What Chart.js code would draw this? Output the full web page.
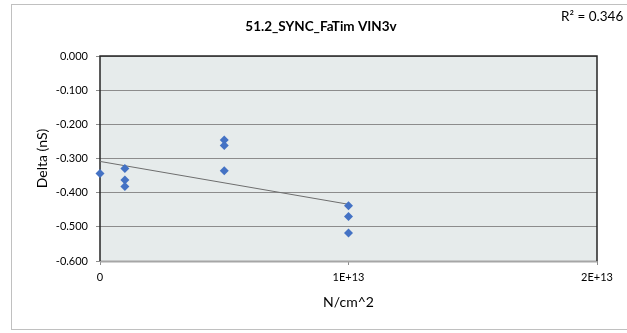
<!DOCTYPE html>
<html>
<head>
<meta charset="utf-8">
<script src="https://cdn.jsdelivr.net/npm/chart.js@4/dist/chart.umd.min.js"></script>
<style>
  html, body { margin: 0; padding: 0; background: #fff; }
  #box { width: 627px; height: 333px; }
</style>
</head>
<body>
<div id="box"><canvas id="scatter_canvas" width="627" height="333"></canvas></div>
<script>
// values (x in N/cm^2, y in nS)
const fluence = [0, 1e12, 1e12, 1e12, 5e12, 5e12, 5e12, 1e13, 1e13, 1e13];
const delta = [-0.344, -0.329, -0.363, -0.382, -0.246, -0.262, -0.336, -0.438, -0.470, -0.518];
const xTickLabels = ['0', '1E+13', '2E+13'];
const yTickLabels = ['-0.600', '-0.500', '-0.400', '-0.300', '-0.200', '-0.100', '0.000'];
const chartTitle = '51.2_SYNC_FaTim VIN3v';
const r2Label = 'R² = 0.346';

const FONT = 'Lato, "Liberation Sans", sans-serif';

// linear trendline, least squares over the points
const fitLine = () => {
    let n = fluence.length, sx = 0, sy = 0, sxx = 0, sxy = 0
    for (let i = 0; i < n; i++) {
        sx += fluence[i]; sy += delta[i]
        sxx += fluence[i] * fluence[i]; sxy += fluence[i] * delta[i]
    }
    let slope = (n * sxy - sx * sy) / (n * sxx - sx * sx)
    let icpt = (sy - slope * sx) / n
    let x0 = Math.min(...fluence), x1 = Math.max(...fluence)
    return [{x: x0, y: icpt + slope * x0}, {x: x1, y: icpt + slope * x1}]
}

const points = fluence.map((x, i) => ({x: x, y: delta[i]}))

const excelLook = {
    id: 'excelLook',
    beforeDraw(chart) {
        const {ctx, chartArea: a} = chart
        ctx.save()
        // outer chart border
        ctx.strokeStyle = '#c0c0c0'
        ctx.lineWidth = 1
        ctx.strokeRect(11.5, 4.5, 700, 325)
        // plot area
        ctx.fillStyle = '#e6ebeb'
        ctx.fillRect(a.left, a.top, a.right - a.left, a.bottom - a.top)
        ctx.restore()
    },
    beforeDatasetsDraw(chart) {
        const {ctx, chartArea: a} = chart
        ctx.save()
        ctx.strokeStyle = '#a6a6a6'
        ctx.lineWidth = 2
        ctx.beginPath()
        ctx.moveTo(a.left, a.bottom + 0.5); ctx.lineTo(a.right, a.bottom + 0.5)
        ctx.stroke()
        ctx.strokeStyle = '#262626'
        ctx.lineWidth = 1.5
        ctx.beginPath()
        ctx.moveTo(a.left, a.bottom); ctx.lineTo(a.left, a.top)
        ctx.lineTo(a.right, a.top); ctx.lineTo(a.right, a.bottom)
        ctx.stroke()
        ctx.restore()
    },
    afterDraw(chart) {
        const {ctx} = chart
        ctx.save()
        ctx.fillStyle = '#000'
        ctx.textBaseline = 'middle'
        ctx.textAlign = 'center'
        ctx.font = 'bold 13.5px ' + FONT
        ctx.fillText(chartTitle, 321, 27)
        ctx.textAlign = 'left'
        ctx.font = '13.5px ' + FONT
        ctx.fillText(r2Label, 561, 17)
        ctx.restore()
    }
}

const config = {
    data: {
        datasets: [
            {
                type: 'scatter',
                data: points,
                pointStyle: 'rectRot',
                pointRadius: 4.5,
                pointHoverRadius: 4.5,
                backgroundColor: '#4472c4',
                borderColor: '#4472c4',
                borderWidth: 0,
                clip: false
            },
            {
                type: 'line',
                data: fitLine(),
                borderColor: '#6e6e6e',
                borderWidth: 1,
                pointRadius: 0,
                fill: false
            }
        ]
    },
    options: {
        responsive: false,
        animation: false,
        layout: {padding: {left: 12, right: 30, top: 56, bottom: 4}},
        plugins: {legend: {display: false}, tooltip: {enabled: false}},
        scales: {
            x: {
                type: 'linear',
                position: 'bottom',
                min: 0,
                max: 2e13,
                afterFit: (s) => { s.height = 68 },
                grid: {drawOnChartArea: false, drawTicks: true, tickLength: 4, color: '#8c8c8c'},
                border: {display: false},
                ticks: {
                    stepSize: 1e13,
                    padding: 6,
                    maxRotation: 0,
                    color: '#000',
                    font: {family: FONT, size: 11},
                    callback: (v, i) => xTickLabels[i]
                },
                title: {
                    display: true,
                    text: 'N/cm^2',
                    color: '#000',
                    font: {family: FONT, size: 14},
                    padding: {top: 0, bottom: 18}
                }
            },
            y: {
                type: 'linear',
                min: -0.6,
                max: 0,
                afterFit: (s) => { s.width = 88 },
                grid: {color: '#8c8c8c', lineWidth: 1, tickLength: 4},
                border: {display: false},
                ticks: {
                    stepSize: 0.1,
                    padding: 8,
                    color: '#000',
                    font: {family: FONT, size: 11},
                    callback: (v, i) => yTickLabels[i]
                },
                title: {
                    display: true,
                    text: 'Delta (nS)',
                    color: '#000',
                    font: {family: FONT, size: 14},
                    padding: {top: 22, bottom: 0}
                }
            }
        }
    },
    plugins: [excelLook]
}

new Chart(document.getElementById('scatter_canvas'), config)
</script>
</body>
</html>
